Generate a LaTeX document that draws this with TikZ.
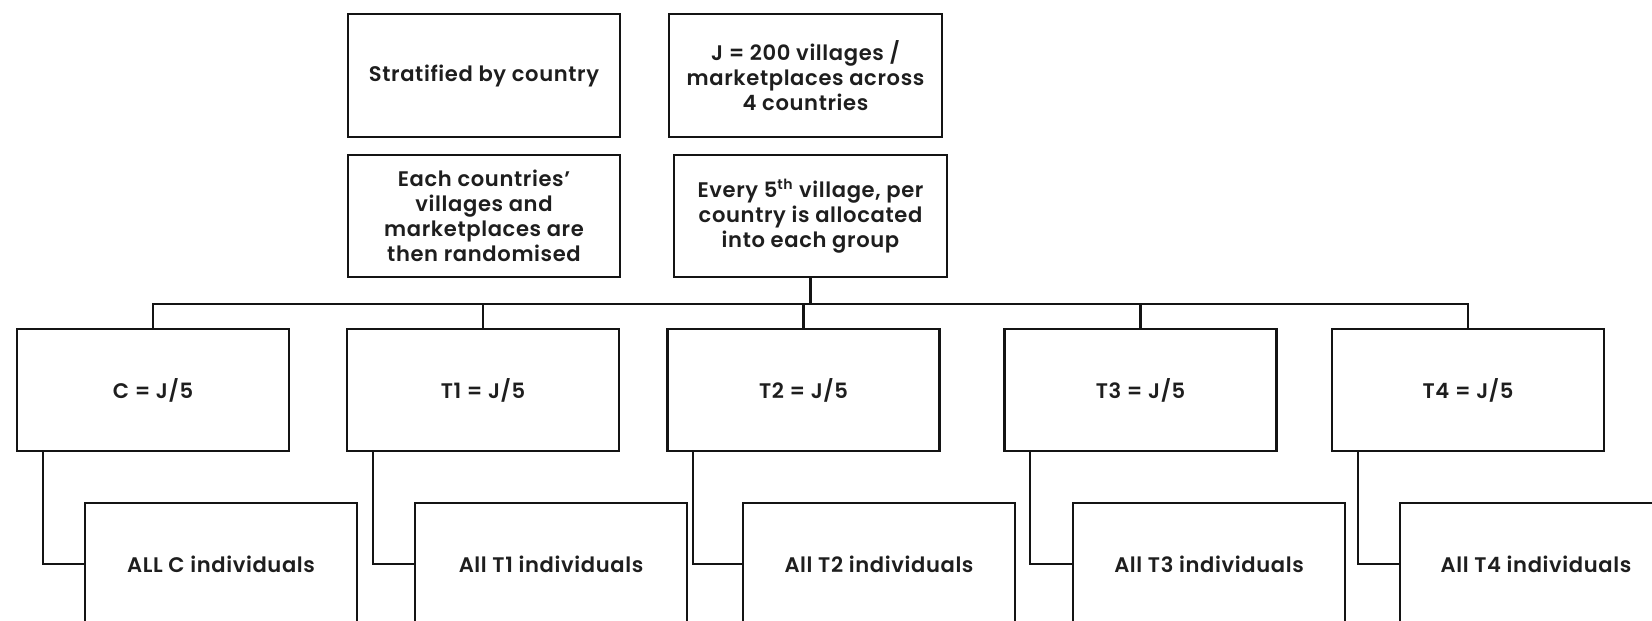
\documentclass[tikz,border=0pt]{standalone}
\usepackage{fontspec}
\setmainfont{Poppins}[UprightFont=* SemiBold, BoldFont=* Bold, LetterSpace=3]
\usetikzlibrary{positioning}
\definecolor{ink}{RGB}{20, 20, 20}
\definecolor{txt}{RGB}{30, 30, 30}
\tikzset{
    box/.style={rectangle, draw=ink, line width=1.6pt, align=center, text=txt, font=\fontsize{12}{14.2}\selectfont, minimum width=5.44cm, minimum height=2.44cm, inner sep=2pt},
    groupbox/.style={box},
    indbox/.style={box},
    link/.style={draw=ink, line width=1.2pt}
}

\begin{document}
\begin{tikzpicture}
                \useasboundingbox (0,0) rectangle (33.04,12.4);
                \node[box, minimum height=2.46cm] (strat) at (9.68,10.89) {Stratified by country};
                \node[box, minimum width=5.46cm, minimum height=2.46cm] (jbox) at (16.11,10.89) {J = 200 villages /\\ marketplaces across\\ 4 countries};
                \node[box] (rand) at (9.68,8.08) {Each countries'\\ villages and\\ marketplaces are\\ then randomised};
                \node[box, minimum width=5.46cm] (every) at (16.21,8.08) {Every 5\textsuperscript{th} village, per\\ country is allocated\\ into each group};
                \node[groupbox] (c) at (3.06,4.6) {C = J/5};
                \node[groupbox] (t1) at (9.66,4.6) {T1 = J/5};
                \node[groupbox] (t2) at (16.07,4.6) {T2 = J/5};
                \node[groupbox] (t3) at (22.81,4.6) {T3 = J/5};
                \node[groupbox] (t4) at (29.36,4.6) {T4 = J/5};
                \node[indbox] (indc) at (4.42,1.12) {ALL C individuals};
                \node[indbox] (ind1) at (11.02,1.12) {All T1 individuals};
                \node[indbox] (ind2) at (17.58,1.12) {All T2 individuals};
                \node[indbox] (ind3) at (24.18,1.12) {All T3 individuals};
                \node[indbox] (ind4) at (30.72,1.12) {All T4 individuals};
                \draw[link] (every.south) -- ++(0,-0.52) coordinate (hub);
                \foreach \g in {c,t1,t2,t3,t4} {\draw[link] (\g.north) |- (hub);}
                \draw[link] ([xshift=0.54cm]c.south west) |- (indc.west); \draw[link] ([xshift=0.54cm]t1.south west) |- (ind1.west);
                \draw[link] ([xshift=0.54cm]t2.south west) |- (ind2.west); \draw[link] ([xshift=0.54cm]t3.south west) |- (ind3.west);
                \draw[link] ([xshift=0.54cm]t4.south west) |- (ind4.west);
            \end{tikzpicture}
\end{document}
